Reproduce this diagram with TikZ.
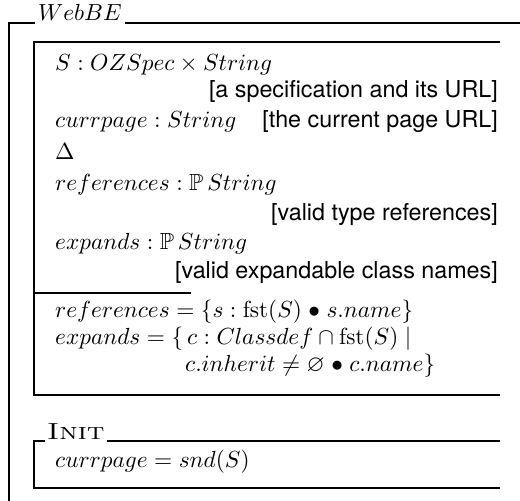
\documentclass[tikz,border=0pt]{standalone}
\usepackage{graphicx}
\usepackage{amssymb}
\usepackage[no-math]{fontspec}
\newfontfamily\helv{TeX Gyre Heros}
\newcommand\zsc[1]{\scalebox{2.33}{#1}}
\tikzset{
  ztext/.style={anchor=base west, inner sep=0pt},
  zcom/.style={anchor=base east, inner sep=0pt},
  ztitle/.style={anchor=base west, inner sep=0pt},
  zbox/.style={line width=2.6pt},
}
\begin{document}
\begin{tikzpicture}[x=1pt,y=-1pt]
\useasboundingbox (0,0) rectangle (520,501);
% outer schema
\node[ztitle] (wt) at (38,20) {\zsc{$WebBE$}};
\coordinate (otl) at (9,23);
\coordinate (otr) at (520,23);
\coordinate (obl) at (9,501);
\draw[zbox] ([xshift=-3pt]wt.west |- otl) -- (otl) -- (obl);
\draw[zbox] ([xshift=3pt]wt.east |- otl) -- (otr);
% state box
\coordinate (stl) at (34,42);
\coordinate (str) at (500,42);
\coordinate (sbl) at (34,395);
\coordinate (sbr) at (500,395);
\coordinate (sepl) at (34,293);
\coordinate (sepr) at (191,293);
\draw[zbox] (str) -- (stl) -- (sbl) -- (sbr);
\draw[zbox] (sepl) -- (sepr);
% declarations
\node[ztext] (d1) at (55,70) {\zsc{$S : OZSpec \times String$}};
\node[zcom] (c1) at (498,97) {\zsc{\helv [a specification and its URL]}};
\node[ztext] (d2) at (55,127) {\zsc{$currpage : String$}};
\node[zcom] (c2) at (498,127) {\zsc{\helv [the current page URL]}};
\node[ztext] (d3) at (55,159) {\zsc{$\Delta$}};
\node[ztext] (d4) at (55,190) {\zsc{$references : \mathbb{P}\,String$}};
\node[zcom] (c4) at (498,220) {\zsc{\helv [valid type references]}};
\node[ztext] (d5) at (55,249) {\zsc{$expands : \mathbb{P}\,String$}};
\node[zcom] (c5) at (498,278) {\zsc{\helv [valid expandable class names]}};
% predicates
\node[ztext] (p1) at (55,317) {\zsc{$references = \{ s : \mathrm{fst}(S) \mathrel{\bullet} s.name \}$}};
\node[ztext] (p2) at (55,344) {\zsc{$expands = \{\, c : Classdef \cap \mathrm{fst}(S) \mid$}};
\node[ztext] (p3) at (185,371) {\zsc{$c.inherit \neq \varnothing \mathrel{\bullet} c.name \}$}};
% Init
\node[ztitle] (it) at (47,439) {\scalebox{3.0}[2.33]{\textsc{Init}}};
\coordinate (itl) at (34,441);
\coordinate (itr) at (500,441);
\coordinate (ibl) at (34,488);
\coordinate (ibr) at (500,488);
\draw[zbox] ([xshift=-2pt]it.west |- itl) -- (itl) -- (ibl) -- (ibr);
\draw[zbox] ([xshift=2pt]it.east |- itl) -- (itr);
\node[ztext] (ip) at (55,467) {\zsc{$currpage = snd(S)$}};
\end{tikzpicture}
\end{document}
